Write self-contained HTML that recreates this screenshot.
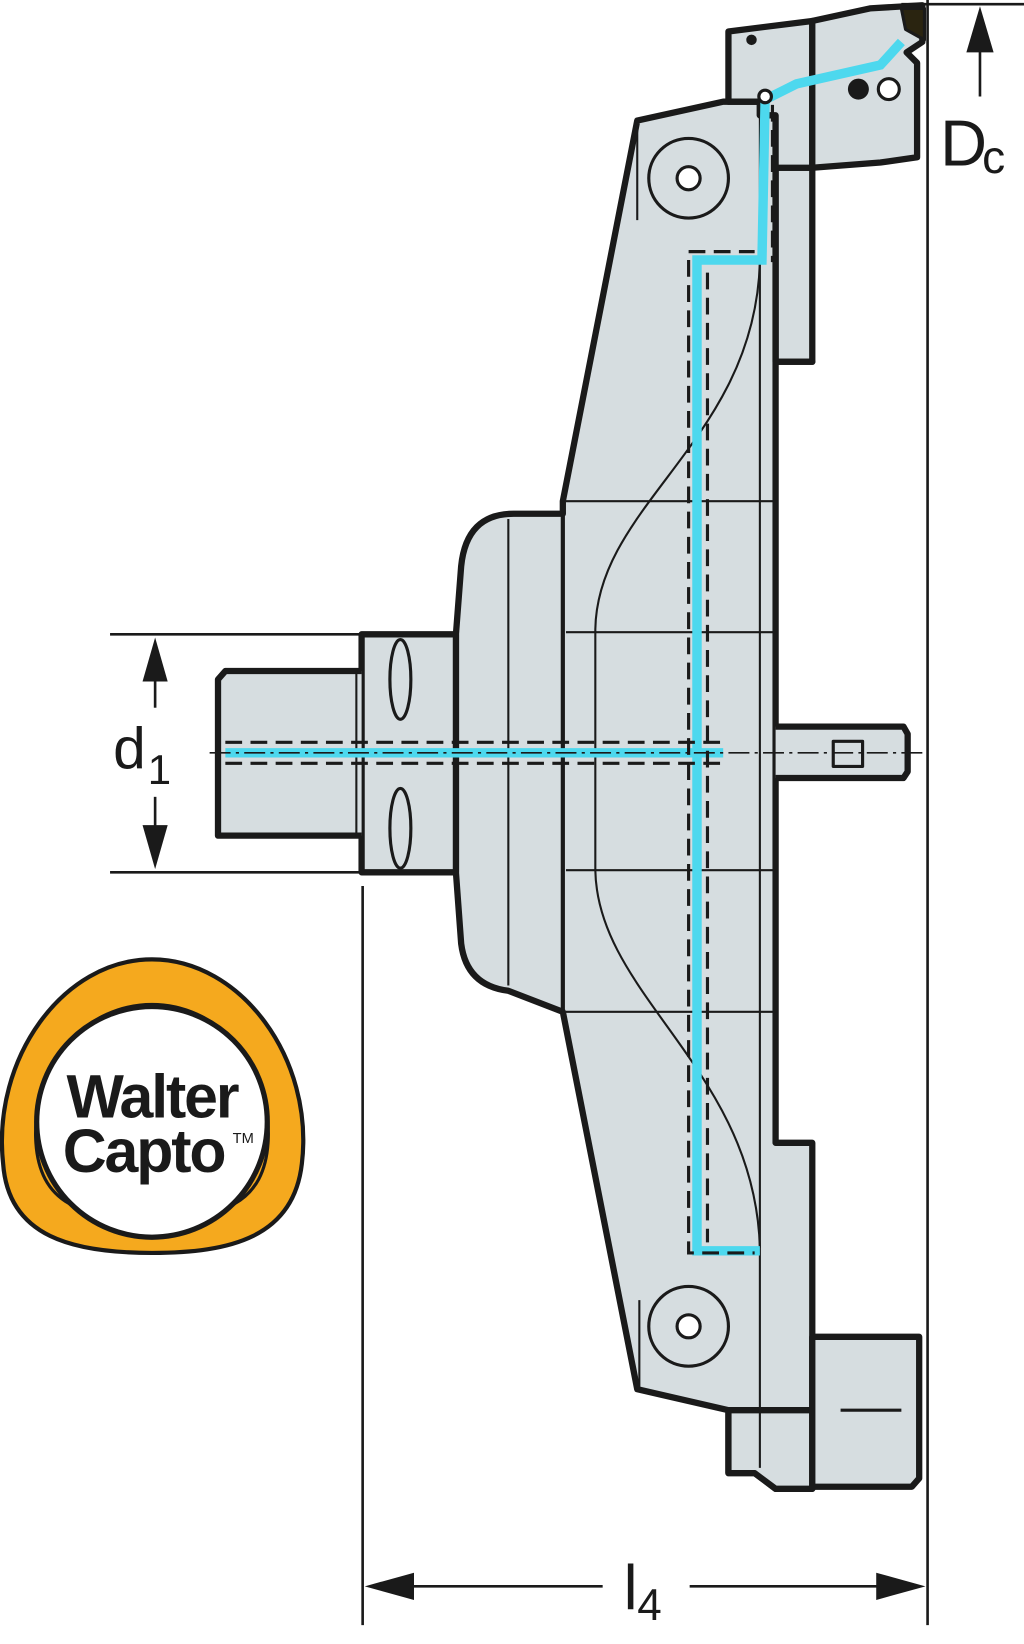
<!DOCTYPE html>
<html><head><style>html,body{margin:0;padding:0;background:#fff}svg{display:block}</style></head><body>
<svg width="1024" height="1644" viewBox="0 0 977 1568" preserveAspectRatio="none" xmlns="http://www.w3.org/2000/svg" font-family="Liberation Sans, sans-serif">
<g stroke="#1a1a1a" stroke-linejoin="round">
<path d="M608,115 L690,97 L725,97 L725,110 L740,110 L740,345 L775,345 L775,160 L740,160 L740,345 L740,1090 L775,1090 L775,1420 L740,1420 L720,1405 L695,1405 L695,1345 L608,1325 L537,965 L485,945 Q445,940 440,900 L435,832 L435,605 L440,540 Q445,490 490,490 L537,490 L537,478 Z" fill="#d6dde0" stroke-width="6"/>
<path d="M695,30 L775,20 L775,160 L740,160 L740,345 L775,345 L775,345 L740,345 L740,110 L725,110 L725,97 L695,97 Z" fill="#d6dde0" stroke-width="6"/>
<path d="M775,20 L830,8 L880,5 L880,40 L865,50 L875,60 L875,150 L840,155 L775,160 Z" fill="#d6dde0" stroke-width="6"/>
<path d="M860,8 L882,8 L882,38 L864,28 Z" fill="#2a2410" stroke-width="3"/>
<circle cx="819" cy="85" r="10" fill="#1a1a1a" stroke="none"/>
<circle cx="848" cy="85" r="10" fill="#fff" stroke-width="3"/>
<circle cx="717" cy="38" r="5" fill="#1a1a1a" stroke="none"/>
<path d="M695,1345 L775,1345 L775,1420 L740,1420 L720,1405 L695,1405 Z" fill="#d6dde0" stroke-width="6"/>
<path d="M775,1275 L877,1275 L877,1410 L870,1418 L775,1418 Z" fill="#d6dde0" stroke-width="6"/>
<line x1="802" y1="1345" x2="860" y2="1345" stroke-width="3"/>
<line x1="775" y1="1275" x2="775" y2="1418" stroke-width="3"/>
<rect x="345" y="605" width="90" height="227" fill="#d6dde0" stroke-width="6"/>
<path d="M345,640 L215,640 L208,648 L208,797 L345,797" fill="#d6dde0" stroke-width="6"/>
<line x1="340" y1="640" x2="340" y2="797" stroke-width="2"/>
<ellipse cx="382" cy="648" rx="10" ry="38" fill="#d6dde0" stroke-width="3"/>
<ellipse cx="382" cy="790" rx="10" ry="38" fill="#d6dde0" stroke-width="3"/>
<line x1="537" y1="478" x2="537" y2="965" stroke-width="4"/>
<line x1="485" y1="495" x2="485" y2="940" stroke-width="2"/>
<line x1="540" y1="478" x2="740" y2="478" stroke-width="2"/>
<line x1="540" y1="965" x2="740" y2="965" stroke-width="2"/>
<line x1="540" y1="603" x2="740" y2="603" stroke-width="2"/>
<line x1="540" y1="830" x2="740" y2="830" stroke-width="2"/>
<path d="M725,250 C720,420 570,480 568,600 L568,830 C570,950 720,1020 725,1190" fill="none" stroke-width="2"/>
<line x1="608" y1="115" x2="608" y2="210" stroke-width="2"/>
<line x1="610" y1="1240" x2="610" y2="1325" stroke-width="2"/>
<line x1="725" y1="110" x2="725" y2="1400" stroke-width="2"/>
<circle cx="657" cy="170" r="38" fill="#d6dde0" stroke-width="3"/>
<circle cx="657" cy="170" r="11" fill="#fff" stroke-width="3"/>
<circle cx="657" cy="1265" r="38" fill="#d6dde0" stroke-width="3"/>
<circle cx="657" cy="1265" r="11" fill="#fff" stroke-width="3"/>
<path d="M740,693 L862,693 L866,700 L866,736 L862,742 L740,742" fill="#d6dde0" stroke-width="6"/>
<rect x="795" y="707" width="28" height="24" fill="#d6dde0" stroke-width="3"/>
</g>
<g fill="none">
<path d="M215,718 L690,718 M665,718 L665,1193 L725,1193 M665,718 L665,248 L727,248 L730,95 L760,80 L840,62 L860,40" stroke="#4dd8ee" stroke-width="9"/>
<path d="M215,708 L690,708 M215,728 L690,728 M657,248 L657,1195 L720,1195 M675,260 L675,1185 M657,240 L720,240 M737,100 L737,250" stroke="#1a1a1a" stroke-width="3" stroke-dasharray="16,8"/>
</g>
<circle cx="730" cy="92" r="6" fill="#fff" stroke="#1a1a1a" stroke-width="3"/>
<line x1="200" y1="718" x2="880" y2="718" stroke="#1a1a1a" stroke-width="1.5" stroke-dasharray="20,5,3,5"/>
<g stroke="#1a1a1a" stroke-width="2.5" fill="none">
<line x1="105" y1="605" x2="345" y2="605"/><line x1="105" y1="832" x2="345" y2="832"/>
<line x1="148" y1="640" x2="148" y2="675"/><line x1="148" y1="760" x2="148" y2="800"/>
<line x1="885" y1="0" x2="885" y2="1550"/><line x1="860" y1="4" x2="977" y2="4"/>
<line x1="935" y1="30" x2="935" y2="92"/>
<line x1="346" y1="845" x2="346" y2="1550"/>
<line x1="390" y1="1513" x2="575" y2="1513"/><line x1="658" y1="1513" x2="840" y2="1513"/>
</g>
<g fill="#1a1a1a">
<path d="M148,608 L136,650 L160,650 Z"/><path d="M148,829 L136,787 L160,787 Z"/>
<path d="M935,6 L922,50 L948,50 Z"/>
<path d="M348,1513 L395,1500 L395,1526 Z"/><path d="M883,1513 L836,1500 L836,1526 Z"/>
</g>
<text x="108" y="733" font-size="56" fill="#1a1a1a">d</text><text x="141" y="748" font-size="40" fill="#1a1a1a">1</text>
<text x="897" y="158" font-size="62" fill="#1a1a1a">D</text><text x="937" y="165" font-size="44" fill="#1a1a1a">c</text>
<text x="595" y="1535" font-size="60" fill="#1a1a1a">l</text><text x="608" y="1545" font-size="42" fill="#1a1a1a">4</text>
<path d="M145,915 C230,915 300,1010 288,1110 C280,1180 220,1195 145,1195 C70,1195 8,1180 3,1110 C-8,1010 60,915 145,915 Z" fill="#f5a91e" stroke="#1a1a1a" stroke-width="4"/>
<path d="M145,958 C205,958 258,1010 256,1085 C254,1150 210,1162 145,1162 C80,1162 36,1150 34,1085 C32,1010 85,958 145,958 Z" fill="#f5a91e" stroke="#1a1a1a" stroke-width="3"/>
<circle cx="145" cy="1070" r="110" fill="#fff" stroke="#1a1a1a" stroke-width="5"/>
<text x="145" y="1066" font-size="58" font-weight="bold" text-anchor="middle" fill="#1a1a1a" letter-spacing="-2">Walter</text>
<text x="137" y="1118" font-size="58" font-weight="bold" text-anchor="middle" fill="#1a1a1a" letter-spacing="-2">Capto</text>
<text x="222" y="1090" font-size="14" fill="#1a1a1a">TM</text>
</svg>
</body></html>
